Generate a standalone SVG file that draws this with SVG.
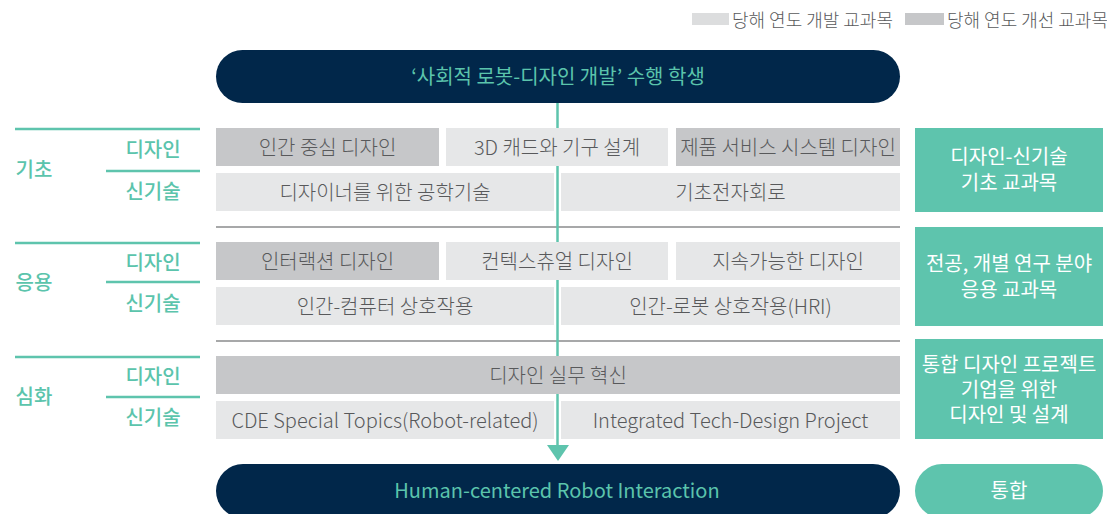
<svg xmlns="http://www.w3.org/2000/svg" width="1107" height="514" viewBox="0 0 1107 514">
<defs>
<style>
text{font-family:"Noto Sans CJK KR","Noto Sans",sans-serif;}
.c{font-size:20px;fill:#58595b;font-weight:300;text-anchor:middle;}
.lg{font-size:18px;fill:#58595b;font-weight:300;}
.lab{font-size:20px;fill:#5bc4ac;font-weight:500;text-anchor:middle;}
.w{font-size:20px;fill:#ffffff;text-anchor:middle;}
.t{font-size:20px;fill:#5bc4ac;text-anchor:middle;}
.dk{fill:#c6c7c9;}
.lt{fill:#e6e7e8;}
.tb{fill:#5ec4ad;}
.nv{fill:#01274a;}
.tl{stroke:#5ec4ad;stroke-width:2.5;fill:none;}
.sep{stroke:#8a8b8d;stroke-width:1.5;fill:none;}
</style>
</defs>

<g id="legend">
<rect x="692" y="13" width="37" height="12" fill="#dcddde"/>
<text class="lg" x="732" y="27">당해 연도 개발 교과목</text>
<rect x="905" y="13" width="39" height="12" fill="#c6c7c9"/>
<text class="lg" x="947" y="27">당해 연도 개선 교과목</text>
</g>

<g id="levels">
<line class="tl" x1="15" y1="129" x2="200" y2="129"/>
<line class="tl" x1="106" y1="171" x2="200" y2="171"/>
<text class="lab" x="34" y="177">기초</text>
<text class="lab" x="153" y="157">디자인</text>
<text class="lab" x="153" y="199">신기술</text>

<line class="tl" x1="15" y1="243" x2="200" y2="243"/>
<line class="tl" x1="106" y1="282" x2="200" y2="282"/>
<text class="lab" x="34" y="290">응용</text>
<text class="lab" x="153" y="270">디자인</text>
<text class="lab" x="153" y="311">신기술</text>

<line class="tl" x1="15" y1="357" x2="200" y2="357"/>
<line class="tl" x1="106" y1="397" x2="200" y2="397"/>
<text class="lab" x="34" y="404">심화</text>
<text class="lab" x="153" y="384">디자인</text>
<text class="lab" x="153" y="425">신기술</text>
</g>

<g id="separators">
<line class="sep" x1="216" y1="227" x2="900" y2="227"/>
<line class="sep" x1="216" y1="341" x2="900" y2="341"/>
</g>

<g id="connectors">
<line x1="557.5" y1="103" x2="557.5" y2="447" stroke="#5ec4ad" stroke-width="2.5"/>
<polygon points="547,445 569,445 558,461" fill="#5ec4ad"/>
</g>

<g id="start">
<rect class="nv" x="216" y="50" width="684" height="53" rx="26.5"/>
<text class="t" x="558" y="84">‘사회적 로봇-디자인 개발’ 수행 학생</text>
</g>

<g id="c1"><rect class="dk" x="216" y="128" width="223" height="38"/><text class="c" x="327.5" y="155">인간 중심 디자인</text></g>
<g id="c2"><rect class="lt" x="446" y="128" width="222" height="38"/><text class="c" x="557" y="155">3D 캐드와 기구 설계</text></g>
<g id="c3"><rect class="dk" x="676" y="128" width="224" height="38"/><text class="c" x="788" y="155">제품 서비스 시스템 디자인</text></g>
<g id="c4"><rect class="lt" x="216" y="173" width="338" height="38"/><text class="c" x="385" y="200">디자이너를 위한 공학기술</text></g>
<g id="c5"><rect class="lt" x="561" y="173" width="339" height="38"/><text class="c" x="730.5" y="200">기초전자회로</text></g>

<g id="c6"><rect class="dk" x="216" y="242" width="223" height="38"/><text class="c" x="327.5" y="269">인터랙션 디자인</text></g>
<g id="c7"><rect class="lt" x="446" y="242" width="222" height="38"/><text class="c" x="557" y="269">컨텍스츄얼 디자인</text></g>
<g id="c8"><rect class="lt" x="676" y="242" width="224" height="38"/><text class="c" x="788" y="269">지속가능한 디자인</text></g>
<g id="c9"><rect class="lt" x="216" y="287" width="338" height="38"/><text class="c" x="385" y="314">인간-컴퓨터 상호작용</text></g>
<g id="c10"><rect class="lt" x="561" y="287" width="339" height="38"/><text class="c" x="730.5" y="314">인간-로봇 상호작용(HRI)</text></g>

<g id="c11"><rect class="dk" x="216" y="356" width="684" height="38"/><text class="c" x="558" y="383">디자인 실무 혁신</text></g>
<g id="c12"><rect class="lt" x="216" y="401" width="338" height="38"/><text class="c" x="385" y="428">CDE Special Topics(Robot-related)</text></g>
<g id="c13"><rect class="lt" x="561" y="401" width="339" height="38"/><text class="c" x="730.5" y="428">Integrated Tech-Design Project</text></g>

<g id="end">
<rect class="nv" x="216" y="464" width="684" height="54" rx="27"/>
<text class="t" x="557" y="498">Human-centered Robot Interaction</text>
</g>

<g id="r1"><rect class="tb" x="915" y="128" width="188" height="84"/><text class="w" x="1009" y="164">디자인-신기술</text><text class="w" x="1009" y="190">기초 교과목</text></g>
<g id="r2"><rect class="tb" x="915" y="227" width="188" height="99"/><text class="w" x="1009" y="271">전공, 개별 연구 분야</text><text class="w" x="1009" y="297">응용 교과목</text></g>
<g id="r3"><rect class="tb" x="915" y="339" width="188" height="100"/><text class="w" x="1009" y="372">통합 디자인 프로젝트</text><text class="w" x="1009" y="397">기업을 위한</text><text class="w" x="1009" y="422">디자인 및 설계</text></g>
<g id="r4"><rect class="tb" x="915" y="464" width="188" height="54" rx="27"/><text class="w" x="1009" y="498">통합</text></g>
</svg>
